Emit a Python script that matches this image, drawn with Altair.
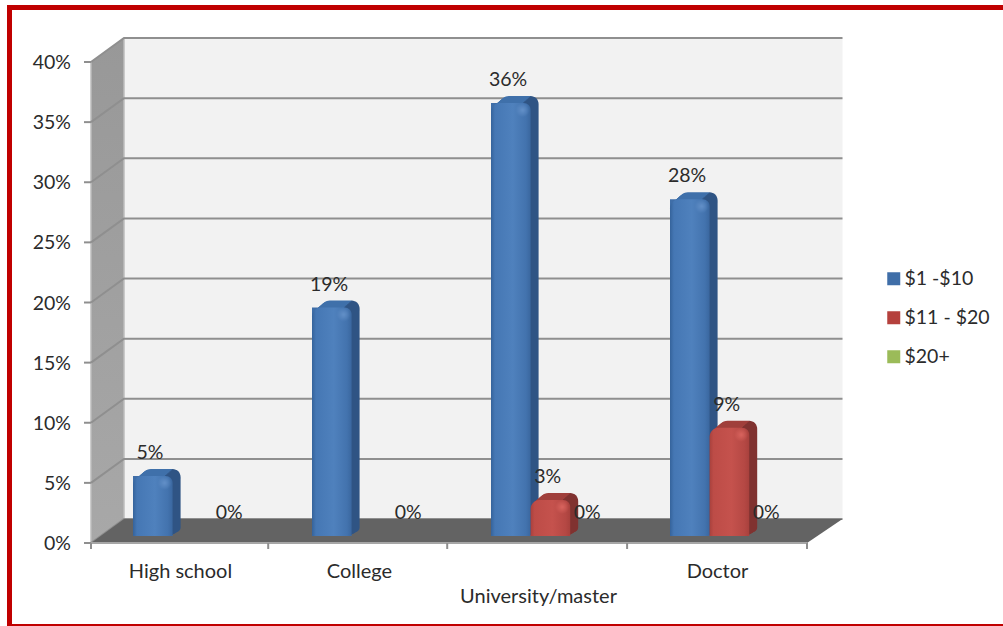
import altair as alt
import pandas as pd

# Survey values, in percent
categories = ["High school", "College", "University/master", "Doctor"]
category_rows = [0, 0, 1, 0]
series_names = ["$1 -$10", "$11 - $20", "$20+"]
series_values = [
    [5, 19, 36, 28],
    [0, 0, 3, 9],
    [0, 0, 0, 0],
]
legend_colors = ["#3f6ea8", "#b5413d", "#9bbb59"]
y_ticks = [0, 5, 10, 15, 20, 25, 30, 35, 40]
x_tick_positions = [0, 0.99, 1.99, 2.995, 4]

# Scales: one x unit is a category slot, y is in percent
W, H = 1003, 626
PX_X, PX_Y = 179.0, 12.025
X0, Y0 = 91.0, 543.0
x_scale = alt.Scale(domain=[-X0 / PX_X, (W - X0) / PX_X], range=[0, W], nice=False, zero=False)
y_scale = alt.Scale(domain=[(Y0 - H) / PX_Y, Y0 / PX_Y], range=[H, 0], nice=False, zero=False)
X = lambda f: alt.X(f, type="quantitative", scale=x_scale, axis=None, title=None)
Y = lambda f: alt.Y(f, type="quantitative", scale=y_scale, axis=None, title=None)

# Depth of the 3D box and of the columns inside it
BOX_DX, BOX_DY = 33 / PX_X, 24 / PX_Y
BOX_RIGHT = 4 + 35.5 / PX_X
BAR_START, BAR_W = 42 / PX_X, 39.6 / PX_X
BAR_BASE = 7 / PX_Y
BAR_DX, BAR_DY = 8 / PX_X, 7 / PX_Y
N_CAT = len(categories)

GRID = "#8f8f8f"
TEXT = "#2b2b2b"
FONT = "Lato"

# Walls and floor
wall_left = pd.DataFrame({
    "x": [0, BOX_DX],
    "y": [40, 40 + BOX_DY],
    "y2": [0, BOX_DY],
})
floor = pd.DataFrame({
    "x": [0, BOX_DX, N_CAT, BOX_RIGHT],
    "y": [0, BOX_DY, BOX_DY, BOX_DY],
    "y2": [0, 0, 0, BOX_DY],
})
wall_back = pd.DataFrame({"x": [BOX_DX], "x2": [BOX_RIGHT], "y": [BOX_DY], "y2": [40 + BOX_DY]})

left_layer = alt.Chart(wall_left).mark_area(
    orient="vertical",
    color=alt.Gradient(
        gradient="linear", x1=0, x2=0, y1=0, y2=1,
        stops=[alt.GradientStop(color="#989898", offset=0), alt.GradientStop(color="#a8a8a8", offset=1)],
    ),
).encode(x=X("x"), y=Y("y"), y2="y2")
back_layer = alt.Chart(wall_back).mark_rect(color="#f2f2f2").encode(x=X("x"), x2="x2", y=Y("y"), y2="y2")

grid_rows = []
for t in y_ticks:
    grid_rows += [
        {"t": t, "i": 0, "x": 0, "y": t},
        {"t": t, "i": 1, "x": BOX_DX, "y": t + BOX_DY},
        {"t": t, "i": 2, "x": BOX_RIGHT, "y": t + BOX_DY},
    ]
grid_layer = alt.Chart(pd.DataFrame(grid_rows)).mark_line(color=GRID, strokeWidth=2).encode(
    x=X("x"), y=Y("y"), detail="t:N", order="i:Q"
)
edge_df = pd.DataFrame({"x": [0.0, BOX_DX], "y": [0, BOX_DY], "y2": [40, 40 + BOX_DY]})
edge_layer = alt.Chart(edge_df).mark_rule(color="#bdbdbd", strokeWidth=1.5).encode(x=X("x"), y=Y("y"), y2="y2")
floor_layer = alt.Chart(floor).mark_area(orient="vertical", color="#636363").encode(x=X("x"), y=Y("y"), y2="y2")

# Axis lines and tick marks
TICK_X = 7 / PX_X
TICK_Y = 6 / PX_Y
y_tick_df = pd.DataFrame({"y": y_ticks, "x": -TICK_X, "x2": 0.0, "label": [f"{t}%" for t in y_ticks]})
y_tick_layer = alt.Chart(y_tick_df).mark_rule(color=GRID, strokeWidth=2).encode(x=X("x"), x2="x2", y=Y("y"))
y_text_layer = alt.Chart(y_tick_df).mark_text(
    align="right", baseline="middle", dx=-13, dy=1, font=FONT, fontSize=19.5, color=TEXT
).encode(x=X("x"), y=Y("y"), text="label:N")

x_tick_df = pd.DataFrame({"x": x_tick_positions, "y": 0.0, "y2": -TICK_Y})
x_tick_layer = alt.Chart(x_tick_df).mark_rule(color=GRID, strokeWidth=2).encode(x=X("x"), y=Y("y"), y2="y2")
base_line = alt.Chart(pd.DataFrame({"x": [0.0], "x2": [float(N_CAT)], "y": [0.0]})).mark_rule(
    color="#a6a6a6", strokeWidth=2
).encode(x=X("x"), x2="x2", y=Y("y"))

cat_df = pd.DataFrame({
    "x": [i + 0.5 for i in range(N_CAT)],
    "row": category_rows,
    "label": categories,
})
cat_df["y"] = -(29 + 25 * cat_df["row"]) / PX_Y
cat_layer = alt.Chart(cat_df).mark_text(
    align="center", baseline="middle", font=FONT, fontSize=20, color=TEXT
).encode(x=X("x"), y=Y("y"), text="label:N")

# Long table of columns
rows = []
for s, (name, values) in enumerate(zip(series_names, series_values)):
    for c, v in enumerate(values):
        x0 = c + BAR_START + s * BAR_W
        rows.append({"series": name, "s": s, "c": c, "value": v, "x": x0, "x2": x0 + BAR_W,
                     "base": BAR_BASE, "top": BAR_BASE + v, "label": f"{v}%"})
bars = pd.DataFrame(rows)


def h_gradient(stops):
    return alt.Gradient(
        gradient="linear", x1=0, x2=1, y1=0, y2=0,
        stops=[alt.GradientStop(color=c, offset=o) for o, c in stops],
    )


# Flat layer carrying the legend; it stays hidden behind the shaded columns
legend_layer = alt.Chart(bars).mark_bar().encode(
    x=X("x"), x2="x2", y=Y("base"), y2="top",
    fill=alt.Fill(
        "series:N",
        scale=alt.Scale(domain=series_names, range=legend_colors),
        legend=alt.Legend(
            title=None, orient="none", legendX=884, legendY=269, symbolType="square", symbolSize=169,
            labelFont=FONT, labelFontSize=19.5, labelColor=TEXT, rowPadding=18, labelOffset=1,
            symbolStrokeWidth=0,
        ),
    ),
)

styles = {
    0: dict(
        top="#3f70aa", side="#2f5484",
        front=[(0, "#35639b"), (0.1, "#4577b4"), (0.55, "#4f81bd"), (0.88, "#4373ae"), (1, "#3a679f")],
        spot="#6390c8",
    ),
    1: dict(
        top="#a03f3b", side="#803230",
        front=[(0, "#a8413d"), (0.1, "#bd4c47"), (0.55, "#c5524d"), (0.88, "#b54844"), (1, "#a8413d")],
        spot="#d9645e",
    ),
}

column_layers = []
for s, st in styles.items():
    shown = bars[(bars.s == s) & (bars.value > 0)]
    # Sweep the column outline backwards to build the top and side faces
    sweep = []
    for step in range(8, 0, -1):
        f = step / 8
        part = shown.copy()
        part["x"] += BAR_DX * f
        part["x2"] += BAR_DX * f
        part["base"] += BAR_DY * f * 0.6
        part["top"] += BAR_DY * f
        sweep.append(part)
    sweep = pd.concat(sweep, ignore_index=True)
    sweep_fill = h_gradient([(0, st["top"]), (0.78, st["top"]), (0.8, st["side"]), (1, st["side"])])
    column_layers.append(
        alt.Chart(sweep).mark_bar(
            fill=sweep_fill, cornerRadiusTopLeft=10, cornerRadiusTopRight=8, cornerRadiusBottomRight=4
        ).encode(x=X("x"), x2="x2", y=Y("base"), y2="top")
    )
    column_layers.append(
        alt.Chart(shown).mark_bar(
            fill=h_gradient(st["front"]), cornerRadiusTopLeft=9, cornerRadiusTopRight=7,
            cornerRadiusBottomRight=2, cornerRadiusBottomLeft=1,
        ).encode(x=X("x"), x2="x2", y=Y("base"), y2="top")
    )
    # Soft sheen near the upper right corner of the front face
    spot = shown.copy()
    spot["x2"] = spot["x2"] - 1 / PX_X
    spot["x"] = spot["x2"] - 14 / PX_X
    spot["y1"] = spot["top"] + 0 / PX_Y
    spot["y2"] = spot["top"] - 14 / PX_Y
    column_layers.append(
        alt.Chart(spot).mark_bar(
            fill=alt.Gradient(
                gradient="radial", x1=0.5, y1=0.5, x2=0.5, y2=0.5, r1=0, r2=0.5,
                stops=[alt.GradientStop(color=st["spot"], offset=0),
                       alt.GradientStop(color=st["spot"] + "00", offset=1)],
            )
        ).encode(x=X("x"), x2="x2", y=Y("y1"), y2="y2")
    )

# Value labels: non-zero columns, plus the zero of the last series in each group
labelled = bars[(bars.value > 0) | (bars.s == 2)].copy()
label_layer = alt.Chart(labelled).mark_text(
    align="center", baseline="middle", dx=17, dy=-23, font=FONT, fontSize=19.5, color=TEXT
).encode(x=X("x"), y=Y("top"), text="label:N")

# Red frame on the left, top and bottom of the picture
one = pd.DataFrame({"k": [0]})
frame = [
    alt.Chart(one).mark_rect(color="#c00000").encode(
        x=alt.value(x0), x2=alt.value(x1), y=alt.value(y0), y2=alt.value(y1)
    )
    for x0, x1, y0, y1 in [(7, 12, 5, 626), (7, W, 5, 10), (7, W, 624, 626)]
]

chart = alt.layer(
    *frame,
    back_layer, left_layer, edge_layer, grid_layer, floor_layer, base_line,
    y_tick_layer, x_tick_layer, y_text_layer, cat_layer,
    legend_layer, *column_layers, label_layer,
).properties(
    width=W, height=H, padding=0, background="white",
    autosize=alt.AutoSizeParams(type="none"),
).configure_view(stroke=None)

chart.save("out.html", embed_options={"renderer": "svg", "actions": False})
